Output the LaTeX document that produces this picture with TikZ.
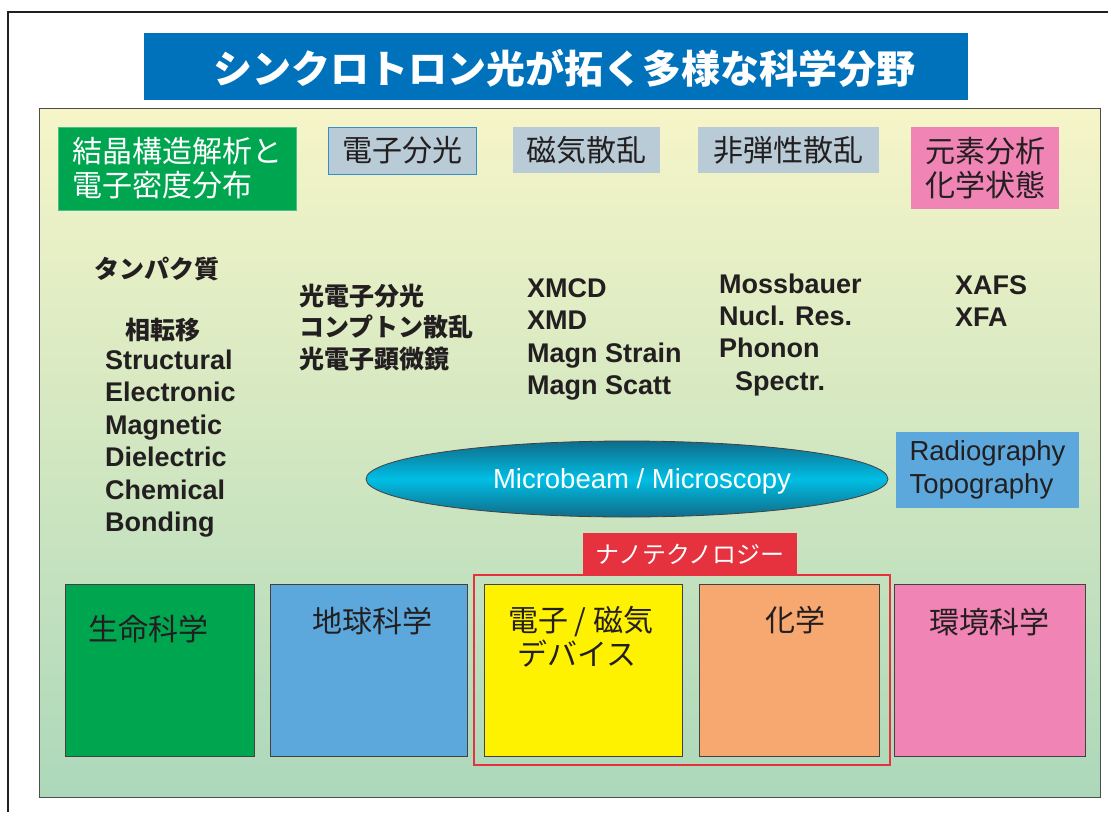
\documentclass[tikz,border=0pt]{standalone}
\usepackage{fontspec}
\setmainfont{Liberation Sans}
\newfontfamily\jp{Noto Sans CJK JP}
\usetikzlibrary{shapes.geometric}
\definecolor{titleblue}{RGB}{0,114,188}
\definecolor{panelTop}{RGB}{246,245,200}
\definecolor{panelBot}{RGB}{172,216,186}
\definecolor{sgreen}{RGB}{0,165,80}
\definecolor{sgray}{RGB}{184,203,214}
\definecolor{spink}{RGB}{240,132,180}
\definecolor{sblue}{RGB}{92,168,220}
\definecolor{syellow}{RGB}{255,242,0}
\definecolor{sorange}{RGB}{247,168,112}
\definecolor{sred}{RGB}{229,50,62}
\definecolor{cyanmid}{RGB}{0,190,228}
\definecolor{cyanedge}{RGB}{16,108,138}
\definecolor{ink}{RGB}{35,31,32}
\begin{document}
\begin{tikzpicture}[x=1pt,y=-1pt,
  box/.style={rectangle, inner sep=0pt, outer sep=0pt},
  bottombox/.style={box, draw=ink!85, line width=0.8pt, minimum height=172},
  topbox/.style={box, text=ink, font=\jp\fontsize{30}{34}\selectfont},
  jpnorm/.style={inner sep=0pt, text=ink, font=\jp\fontsize{30}{34}\selectfont},
  jpbold/.style={inner sep=0pt, text=ink, align=left, font=\jp\bfseries\fontsize{25}{31.5}\selectfont},
  latbold/.style={inner sep=0pt, text=ink, align=left, font=\bfseries\fontsize{27}{32.4}\selectfont},
]
\useasboundingbox (0,0) rectangle (1108,812);
\fill[white] (0,0) rectangle (1108,812);
% outer frame
\draw[line width=2.5pt, ink] (1108,12) -- (8,12) -- (8,812);

% title
\node[box, fill=titleblue, minimum width=824, minimum height=67] (title) at (556,66.5) {};
\node[inner sep=0pt, text=white, font=\jp\bfseries\fontsize{39}{40}\selectfont] (titletext) at (564,68) {シンクロトロン光が拓く多様な科学分野};

% panel
\node[box, draw=ink!80, line width=0.8pt, top color=panelTop, bottom color=panelBot, minimum width=1061, minimum height=689] (panel) at (569.5,452.5) {};

% top row
\node[topbox, fill=sgreen, draw=sgreen!70!white, line width=0.6pt, text=white, align=left, minimum width=238, minimum height=83] (crys) at (177,168.5) {結晶構造解析と\\電子密度分布};
\node[topbox, fill=sgray, draw=titleblue!80, line width=0.8pt, minimum width=148, minimum height=47] (espec) at (402,150.5) {電子分光};
\node[topbox, fill=sgray, minimum width=147, minimum height=46] (magsc) at (586.5,150) {磁気散乱};
\node[topbox, fill=sgray, minimum width=181, minimum height=46] (inel) at (788.5,150) {非弾性散乱};
\node[topbox, fill=spink, align=center, minimum width=148, minimum height=82] (elem) at (985,168) {元素分析\\化学状態};

% middle texts (base anchor = baseline of the last line)
\node[jpbold, anchor=west] (protein) at (94,269) {タンパク質};
\node[jpbold, anchor=west] (phase) at (125,330) {相転移};
\node[latbold, anchor=base west] (phaselist) at (105,531.5) {Structural\\Electronic\\Magnetic\\Dielectric\\Chemical\\Bonding};
\node[jpbold, anchor=base west] (pes) at (299,368) {光電子分光\\コンプトン散乱\\光電子顕微鏡};
\node[latbold, anchor=base west] (xmcd) at (527,394.7) {XMCD\\XMD\\Magn Strain\\Magn Scatt};
\node[latbold, anchor=base west] (moss) at (719,390.2) {Mossbauer\\Nucl. Res.\\Phonon\\\hspace*{16pt}Spectr.};
\node[latbold, anchor=base west] (xafs) at (955,326.4) {XAFS\\XFA};

% ellipse and radiography
\node[ellipse, draw=ink!85, line width=0.8pt, inner sep=0pt, minimum width=522, minimum height=76,
      top color=cyanedge, bottom color=cyanedge, middle color=cyanmid] (micro) at (627,479) {};
\node[inner sep=0pt, text=white, font=\fontsize{27.5}{30}\selectfont] (microtext) at (642,481) {Microbeam / Microscopy};
\node[box, fill=sblue, text=ink, align=left, font=\fontsize{27.5}{33}\selectfont, minimum width=183, minimum height=76] (radio) at (987.5,470) {Radiography\\Topography};

% nanotech
\node[box, fill=sred, text=white, font=\jp\fontsize{24}{28}\selectfont, minimum width=214, minimum height=42] (nano) at (690,554) {ナノテクノロジー};
\node[box, draw=sred, line width=2.8pt, minimum width=416, minimum height=190] (nanoframe) at (682,670) {};

% bottom boxes
\node[bottombox, fill=sgreen, minimum width=189] (life) at (159.5,670) {};
\node[bottombox, fill=sblue, minimum width=197] (earth) at (368.5,670) {};
\node[bottombox, fill=syellow, minimum width=198] (device) at (583,670) {};
\node[bottombox, fill=sorange, minimum width=180] (chem) at (789,670) {};
\node[bottombox, fill=spink, minimum width=191] (env) at (989.5,670) {};

\node[jpnorm] (lifet) at (148,629) {生命科学};
\node[jpnorm] (eartht) at (372.5,621) {地球科学};
\node[jpnorm, align=left, anchor=north west] (devicet) at (508,606) {電子 / 磁気\\\hspace*{9pt}デバイス};
\node[jpnorm] (chemt) at (795,620) {化学};
\node[jpnorm] (envt) at (989,622) {環境科学};
\end{tikzpicture}
\end{document}
